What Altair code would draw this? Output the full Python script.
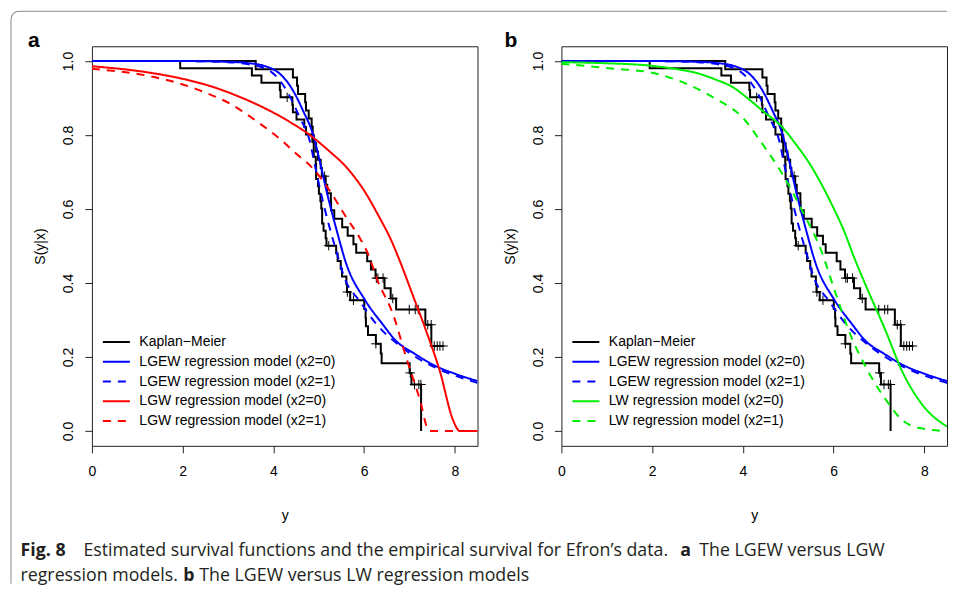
import numpy as np
import pandas as pd
import altair as alt

# ---------------- data ----------------
# Efron's head-and-neck cancer data (survival in days), 1 = death, 0 = censored
armA_days = [7, 34, 42, 63, 64, 74, 83, 84, 91, 108, 112, 129, 133, 133, 139, 140, 140, 146, 149, 154,
             157, 160, 160, 165, 173, 176, 185, 218, 225, 241, 248, 273, 277, 279, 297, 319, 405, 417,
             420, 440, 523, 523, 583, 594, 1101, 1116, 1146, 1226, 1349, 1412, 1417]
armA_event = [1, 1, 1, 1, 1, 0, 1, 1, 1, 1, 1, 1, 1, 1, 1, 1, 1, 1, 1, 1,
              1, 1, 1, 1, 1, 1, 0, 1, 1, 1, 1, 1, 1, 0, 1, 0, 1, 1,
              1, 1, 1, 0, 1, 1, 1, 0, 1, 0, 0, 0, 1]
armB_days = [37, 84, 92, 94, 110, 112, 119, 127, 130, 133, 140, 146, 155, 159, 169, 173, 179, 194, 195,
             209, 249, 281, 319, 339, 432, 469, 519, 528, 547, 613, 633, 725, 759, 817, 1092, 1245,
             1331, 1557, 1642, 1771, 1776, 1897, 2023, 2146, 2297]
armB_event = [1, 1, 1, 1, 1, 1, 1, 1, 1, 1, 1, 1, 1, 1, 0, 1, 1, 1, 1,
              1, 1, 1, 1, 1, 1, 1, 1, 0, 0, 0, 1, 1, 0, 1, 0, 0,
              0, 1, 0, 0, 1, 0, 0, 0, 0]

# fitted survival curves
lgew0_x = [0, 2.0, 3.0, 3.41, 3.85, 4.14, 4.43, 4.65, 4.87, 5.02, 5.17, 5.39, 5.61, 6.01, 6.4, 6.71, 7.1, 7.59, 8.0, 8.5]
lgew0_s = [1.0, 1.0, 0.998, 0.995, 0.985, 0.966, 0.921, 0.867, 0.803, 0.731, 0.650, 0.545, 0.451, 0.356, 0.29, 0.243, 0.21, 0.175, 0.155, 0.135]
lgew1_x = [0, 2.0, 3.0, 3.5, 3.85, 4.29, 4.58, 4.80, 4.91, 5.02, 5.20, 5.43, 5.55, 5.91, 6.3, 6.72, 7.1, 7.60, 8.0, 8.5]
lgew1_s = [1.0, 1.0, 0.997, 0.99, 0.979, 0.921, 0.848, 0.785, 0.722, 0.659, 0.568, 0.469, 0.42, 0.35, 0.285, 0.237, 0.203, 0.17, 0.15, 0.130]

lgw0_x = [0, 1.2, 2.0, 2.67, 3.2, 3.77, 4.3, 4.87, 5.2, 5.61, 6.0, 6.34, 6.6, 6.78, 7.08, 7.37, 7.67, 7.96, 8.11, 8.5]
lgw0_s = [0.986, 0.970, 0.952, 0.930, 0.906, 0.875, 0.84, 0.794, 0.76, 0.713, 0.65, 0.577, 0.515, 0.462, 0.365, 0.27, 0.162, 0.03, 0.0, 0.0]
lgw1_x = [0, 1.2, 1.94, 2.5, 3.04, 3.6, 4.14, 4.5, 4.87, 5.24, 5.61, 5.90, 6.12, 6.27, 6.64, 6.93, 7.22, 7.44, 8.5]
lgw1_s = [0.979, 0.961, 0.939, 0.915, 0.885, 0.84, 0.79, 0.75, 0.71, 0.65, 0.577, 0.523, 0.469, 0.415, 0.315, 0.198, 0.089, 0.0, 0.0]

lw0_x = [0, 1.0, 1.93, 2.5, 3.03, 3.4, 3.77, 4.1, 4.43, 4.87, 5.2, 5.46, 5.72, 5.97, 6.23, 6.45, 6.67, 7.15, 7.51, 7.95, 8.5]
lw0_s = [0.997, 0.994, 0.988, 0.979, 0.966, 0.95, 0.930, 0.90, 0.866, 0.821, 0.77, 0.725, 0.67, 0.61, 0.541, 0.47, 0.405, 0.27, 0.162, 0.072, 0.012]
lw1_x = [0, 1.2, 1.93, 2.67, 3.4, 3.99, 4.43, 4.87, 5.31, 5.72, 6.05, 6.34, 6.70, 7.15, 7.51, 7.9, 8.5]
lw1_s = [0.993, 0.979, 0.970, 0.943, 0.898, 0.848, 0.776, 0.695, 0.595, 0.49, 0.37, 0.27, 0.175, 0.085, 0.03, 0.008, 0.0]

KM = "Kaplan\u2212Meier"
LGEW0 = "LGEW regression model (x2=0)"
LGEW1 = "LGEW regression model (x2=1)"
LGW0 = "LGW regression model (x2=0)"
LGW1 = "LGW regression model (x2=1)"
LW0 = "LW regression model (x2=0)"
LW1 = "LW regression model (x2=1)"

x_ticks = [0, 2, 4, 6, 8]
y_ticks = [0.0, 0.2, 0.4, 0.6, 0.8, 1.0]

caption1 = ["Fig. 8", "Estimated survival functions and the empirical survival for Efron\u2019s data.", "a", "The LGEW versus LGW"]
caption2 = ["regression models.", "b", "The LGEW versus LW regression models"]


# ---------------- Kaplan-Meier (product-limit) from the raw times ----------------
def km_steps(days, events, grp):
    t = np.log(np.asarray(days, float))
    e = np.asarray(events)
    rows, cens = [(0.0, 1.0)], []
    s = 1.0
    for u in np.unique(t):
        n = int(np.sum(t >= u))
        d = int(np.sum((t == u) & (e == 1)))
        if d:
            s *= 1 - d / n
        rows.append((float(u), s))
        if np.any((t == u) & (e == 0)):
            cens.append((float(u), s))
    steps = pd.DataFrame(rows, columns=["x", "S"]).assign(grp=grp, series=KM)
    marks = pd.DataFrame(cens, columns=["x", "S"])
    return steps, marks


kmA, cA = km_steps(armA_days, armA_event, "A")
kmB, cB = km_steps(armB_days, armB_event, "B")
km_df = pd.concat([kmA, kmB], ignore_index=True)
cens_df = pd.concat([cA, cB], ignore_index=True)

FONT = "Liberation Sans"
CAP_FONT = "Open Sans"
CAP_SIZE = 17.8
CAP_COLOR = "#231f20"
one = pd.DataFrame({"k": [0]})

xscale = alt.Scale(domain=[0, 8.5], nice=False, zero=False)
yscale = alt.Scale(domain=[-0.04, 1.04], nice=False, zero=False)
xaxis = alt.Axis(values=x_ticks, format="d", title="y", titleBaseline="alphabetic", titleY=74,
                 labelPadding=12, labelFlush=False)
yaxis = alt.Axis(values=y_ticks, format=".1f", title="S(y|x)", labelAngle=270, labelAlign="center",
                 labelBaseline="alphabetic", labelPadding=12, labelFlush=False, titleAngle=270,
                 titleAlign="center", titleBaseline="alphabetic", titleX=-47, titleY=200)


def txt(text, x, y, size, weight="normal", font=FONT, color="black"):
    return alt.Chart(one).mark_text(text=text, align="left", baseline="alphabetic", font=font,
                                    fontSize=size, fontWeight=weight, color=color).encode(
        x=alt.value(x), y=alt.value(y))


def panel(letter, m0_label, m1_label, m_color, m0x, m0s, m1x, m1s, extras):
    labels = [KM, LGEW0, LGEW1, m0_label, m1_label]
    colors = ["black", "#0000ff", "#0000ff", m_color, m_color]
    dashes = [[1, 0], [1, 0], [8, 7], [1, 0], [8, 7]]
    legend = alt.Legend(title=None, orient="none", legendX=17.5, legendY=289, symbolType="M-3,0L3,0",
                        symbolSize=81, symbolStrokeWidth=2, labelFont=FONT, labelFontSize=14,
                        labelColor="black", labelOffset=16, rowPadding=5.8, padding=0, labelLimit=0)
    color = alt.Color("series:N", scale=alt.Scale(domain=labels, range=colors), legend=legend)
    dash = alt.StrokeDash("series:N", scale=alt.Scale(domain=labels, range=dashes), legend=legend)

    curves = pd.concat([
        pd.DataFrame({"x": lgew0_x, "S": lgew0_s, "series": LGEW0}),
        pd.DataFrame({"x": lgew1_x, "S": lgew1_s, "series": LGEW1}),
        pd.DataFrame({"x": m0x, "S": m0s, "series": m0_label}),
        pd.DataFrame({"x": m1x, "S": m1s, "series": m1_label}),
    ], ignore_index=True)

    X = alt.X("x:Q", scale=xscale, axis=xaxis)
    Y = alt.Y("S:Q", scale=yscale, axis=yaxis)

    km_layer = alt.Chart(km_df).mark_line(interpolate="step-after", strokeWidth=2, clip=True).encode(
        x=X, y=Y, color=color, strokeDash=dash, detail="grp:N", order="x:Q")
    cens_layer = alt.Chart(cens_df).mark_point(shape="M-1,0L1,0M0,-1L0,1", size=90, filled=False,
                                               strokeWidth=1, color="black", opacity=1).encode(
        x=alt.X("x:Q", scale=xscale), y=alt.Y("S:Q", scale=yscale))
    curve_layer = alt.Chart(curves).mark_line(interpolate="monotone", strokeWidth=2, clip=True).encode(
        x=X, y=Y, color=color, strokeDash=dash, order="x:Q")

    layers = [km_layer, cens_layer, curve_layer,
              txt(letter, -64 if letter == "a" else -57, 1, 21, "bold")] + extras
    return alt.layer(*layers).properties(width=386, height=400)


frame_color = "#8a8a8a"
L1, L2 = 510.5, 535.5
frame = [
    alt.Chart(one).mark_rule(color=frame_color, strokeWidth=1).encode(
        x=alt.value(-81), y=alt.value(-27), y2=alt.value(538)),
    alt.Chart(one).mark_rule(color=frame_color, strokeWidth=1).encode(
        x=alt.value(-73), x2=alt.value(856), y=alt.value(-35)),
    alt.Chart(one).mark_arc(theta=4.7124, theta2=6.2832, radius=8.5, radius2=7.5, color=frame_color).encode(
        x=alt.value(-73), y=alt.value(-27)),
    txt(caption1[0], -71.5, L1, CAP_SIZE, "bold", CAP_FONT, CAP_COLOR),
    txt(caption1[1], -8.5, L1, CAP_SIZE, "normal", CAP_FONT, CAP_COLOR),
    txt(caption1[2], 589, L1, CAP_SIZE, "bold", CAP_FONT, CAP_COLOR),
    txt(caption1[3], 608, L1, CAP_SIZE, "normal", CAP_FONT, CAP_COLOR),
    txt(caption2[0], -71.5, L2, CAP_SIZE, "normal", CAP_FONT, CAP_COLOR),
    txt(caption2[1], 91.5, L2, CAP_SIZE, "bold", CAP_FONT, CAP_COLOR),
    txt(caption2[2], 107.5, L2, CAP_SIZE, "normal", CAP_FONT, CAP_COLOR),
]

pa = panel("a", LGW0, LGW1, "#ff0000", lgw0_x, lgw0_s, lgw1_x, lgw1_s, frame)
pb = panel("b", LW0, LW1, "#00ee00", lw0_x, lw0_s, lw1_x, lw1_s, [])

chart = alt.hconcat(pa, pb, spacing=84, bounds="flush").resolve_scale(
    color="independent", strokeDash="independent"
).properties(
    padding={"left": 2, "top": 2, "right": 0, "bottom": 0}, background="white"
).configure_view(
    stroke="#222222", strokeWidth=1
).configure_axis(
    grid=False, domain=False, tickColor="#222222", tickSize=7, tickWidth=1,
    labelFont=FONT, labelFontSize=14, labelColor="black",
    titleFont=FONT, titleFontSize=14, titleFontWeight="normal", titleColor="black"
)

chart.save("out.html", embed_options={"renderer": "svg", "actions": False})
